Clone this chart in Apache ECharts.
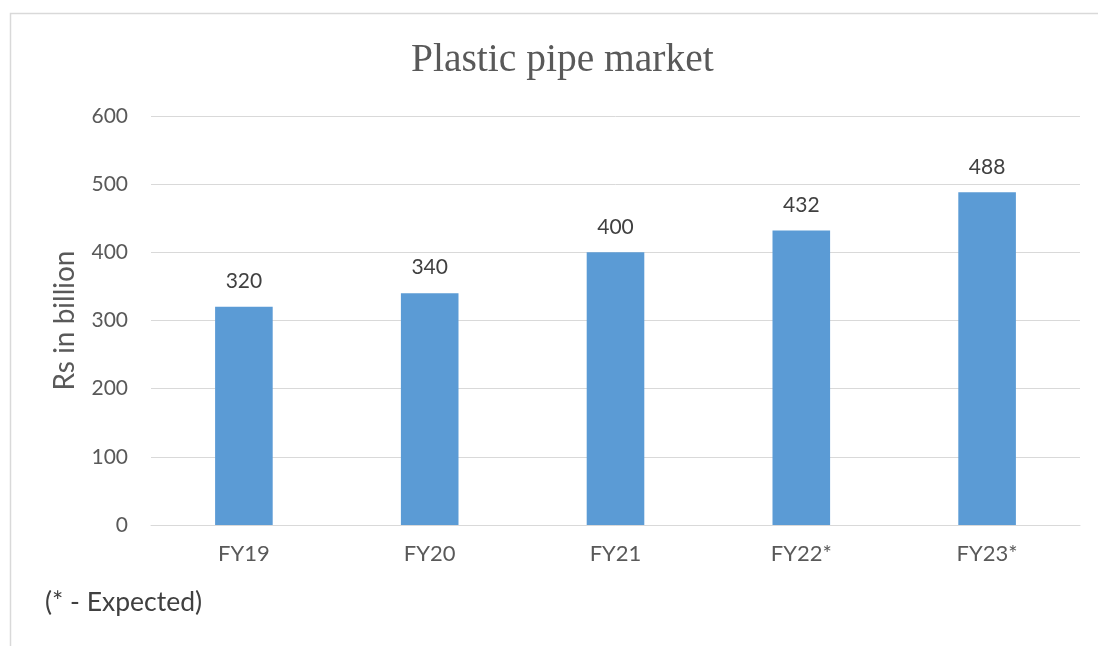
<!DOCTYPE html>
<html>
<head>
<meta charset="utf-8">
<script src="https://cdn.jsdelivr.net/npm/echarts@6/dist/echarts.min.js"></script>
<style>html,body{margin:0;padding:0;background:#fff}#c{width:1098px;height:646px}</style>
</head>
<body>
<div id="c"></div>
<script>
var categories = ['FY19', 'FY20', 'FY21', 'FY22*', 'FY23*'];
var values = [320, 340, 400, 432, 488];
var yTicks = [0, 100, 200, 300, 400, 500, 600];

var chart = echarts.init(document.getElementById('c'), null, {renderer: 'canvas'});
var font = 'Lato, "Open Sans", sans-serif';
chart.setOption({
  animation: false,
  backgroundColor: '#fff',
  title: {
    text: 'Plastic pipe market',
    left: 406,
    top: 36,
    textStyle: {fontFamily: '"Liberation Serif", "DejaVu Serif", serif', fontWeight: 'normal', fontSize: 39.5, color: '#595959'}
  },
  graphic: [
    {type: 'rect', shape: {x: 10.5, y: 13.5, width: 1100, height: 700}, style: {fill: 'none', stroke: '#d9d9d9', lineWidth: 1.5}, silent: true},
    {type: 'text', left: 45, top: 589, style: {text: '(* - Expected)', fontFamily: font, fontSize: 26.5, fill: '#404040'}}
  ],
  grid: {left: 151, right: 18, top: 116, bottom: 121},
  xAxis: {
    type: 'category',
    data: categories,
    axisLine: {lineStyle: {color: '#d9d9d9', width: 1}},
    axisTick: {show: false},
    axisLabel: {margin: 18, fontFamily: font, fontSize: 22, color: '#595959'}
  },
  yAxis: {
    type: 'value',
    min: yTicks[0], max: yTicks[yTicks.length - 1], interval: 100,
    name: 'Rs in billion',
    nameLocation: 'middle',
    nameGap: 72,
    nameTextStyle: {fontFamily: font, fontSize: 28, color: '#595959'},
    axisLine: {show: false},
    axisTick: {show: false},
    splitLine: {lineStyle: {color: '#d9d9d9', width: 1}},
    axisLabel: {margin: 23, fontFamily: font, fontSize: 21, color: '#595959'}
  },
  series: [{
    type: 'bar',
    data: values,
    barWidth: '31%',
    itemStyle: {color: '#5b9bd5'},
    label: {show: true, position: 'top', distance: 15, fontFamily: font, fontSize: 21, color: '#404040'}
  }]
});
</script>
</body>
</html>
